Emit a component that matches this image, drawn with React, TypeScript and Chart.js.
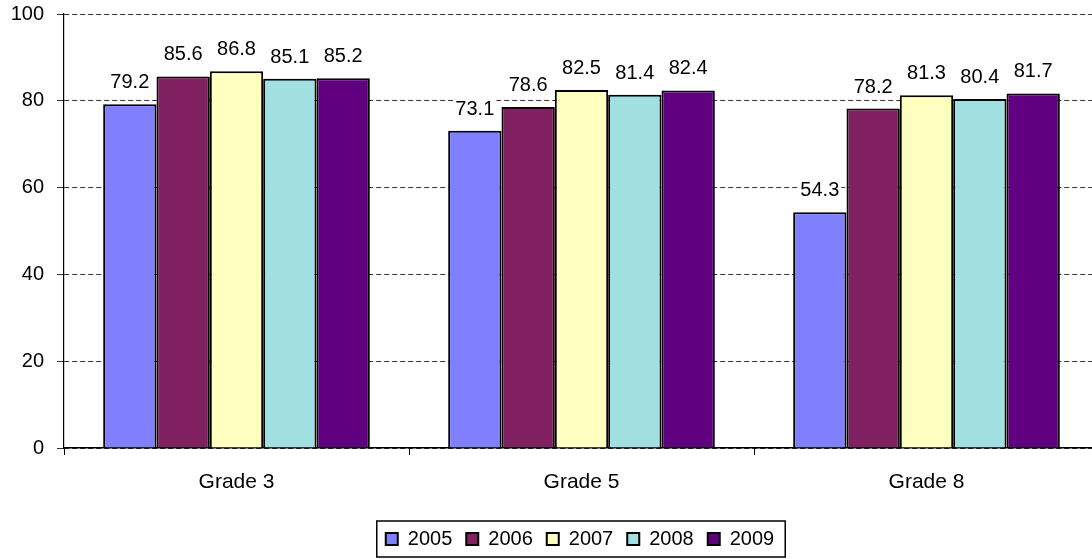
import React, { useEffect, useRef } from "react";
import { Chart, registerables } from "chart.js";

Chart.register(...registerables);

const categories = ["Grade 3", "Grade 5", "Grade 8"];
const seriesNames = ["2005", "2006", "2007", "2008", "2009"];
const values2005 = [79.2, 73.1, 54.3];
const values2006 = [85.6, 78.6, 78.2];
const values2007 = [86.8, 82.5, 81.3];
const values2008 = [85.1, 81.4, 80.4];
const values2009 = [85.2, 82.4, 81.7];
const seriesColors = ["#8080FF", "#802060", "#FFFFC0", "#A0E0E0", "#600080"];

const FONT = "'Liberation Sans', Arial, sans-serif";

const dataLabelPlugin = {
  id: "dataLabels",
  afterDatasetsDraw(chart: any) {
    const ctx = chart.ctx;
    ctx.save();
    ctx.font = `20px ${FONT}`;
    ctx.textAlign = "center";
    ctx.textBaseline = "alphabetic";
    chart.data.datasets.forEach((ds: any, di: number) => {
      const meta = chart.getDatasetMeta(di);
      meta.data.forEach((el: any, i: number) => {
        const txt = Number(ds.data[i]).toFixed(1);
        const w = ctx.measureText(txt).width;
        const y = el.y - 16;
        ctx.fillStyle = "#ffffff";
        ctx.fillRect(el.x - w / 2 - 2, y - 16, w + 4, 18);
        ctx.fillStyle = "#000000";
        ctx.fillText(txt, el.x, y);
      });
    });
    ctx.restore();
  },
};

const legendShiftPlugin = {
  id: "legendShift",
  afterLayout(chart: any) {
    const lg = chart.legend;
    if (!lg) return;
    lg.left = 61;
    lg.width = lg.right - lg.left;
  },
};

const legendBoxPlugin = {
  id: "legendBox",
  afterDraw(chart: any) {
    const lg = chart.legend;
    if (!lg || !lg.legendHitBoxes || !lg.legendHitBoxes.length) return;
    const hb = lg.legendHitBoxes;
    let l = Infinity, r = -Infinity, cy = 0;
    hb.forEach((b: any) => {
      l = Math.min(l, b.left);
      r = Math.max(r, b.left + b.width);
      cy = b.top + b.height / 2;
    });
    const ctx = chart.ctx;
    ctx.save();
    ctx.strokeStyle = "#000";
    ctx.lineWidth = 1.5;
    ctx.strokeRect(l - 9, cy - 18, r - l + 20, 36);
    ctx.restore();
  },
};

export default function App() {
  const ref = useRef<HTMLCanvasElement | null>(null);
  useEffect(() => {
    document.body.style.margin = "0";
    const all = [values2005, values2006, values2007, values2008, values2009];
    const chart = new Chart(ref.current as HTMLCanvasElement, {
      type: "bar",
      data: {
        labels: categories,
        datasets: all.map((vals, i) => ({
          label: seriesNames[i],
          data: vals,
          backgroundColor: seriesColors[i],
          borderColor: "#000000",
          borderWidth: 2,
          categoryPercentage: 0.773,
          barPercentage: 1.0,
        })),
      },
      options: {
        responsive: false,
        animation: false,
        layout: { padding: { left: 0, right: 11, top: 14, bottom: 0 } },
        plugins: {
          tooltip: { enabled: false },
          legend: {
            position: "bottom",
            labels: {
              boxWidth: 12,
              boxHeight: 12,
              padding: 14,
              color: "#000",
              font: { family: FONT, size: 20 },
            },
          },
        },
        scales: {
          x: {
            afterFit: (s: any) => {
              s.height = 67;
            },
            grid: {
              display: true,
              offset: true,
              drawOnChartArea: false,
              drawTicks: true,
              tickLength: 7,
              color: "#000",
              lineWidth: 1,
            },
            border: { display: true, color: "#000", width: 1.5 },
            ticks: {
              color: "#000",
              font: { family: FONT, size: 21 },
              padding: 15,
              maxRotation: 0,
            },
          },
          y: {
            min: 0,
            max: 100,
            afterFit: (s: any) => {
              s.width = 64;
              s.paddingTop = 0;
              s.paddingBottom = 0;
            },
            grid: {
              color: "#333",
              lineWidth: 1,
              tickLength: 7,
              drawTicks: true,
            },
            border: { display: true, color: "#000", width: 1.2, dash: [5, 3] },
            ticks: {
              stepSize: 20,
              color: "#000",
              font: { family: FONT, size: 20 },
              padding: 13,
            },
          },
        },
      },
      plugins: [dataLabelPlugin, legendShiftPlugin, legendBoxPlugin],
    });
    return () => chart.destroy();
  }, []);
  return (
    <div
      style={{
        position: "fixed",
        left: 0,
        top: 0,
        width: 1092,
        height: 559,
        overflow: "hidden",
        background: "#fff",
      }}
    >
      <canvas ref={ref} width={1110} height={559} style={{ display: "block" }} />
    </div>
  );
}
